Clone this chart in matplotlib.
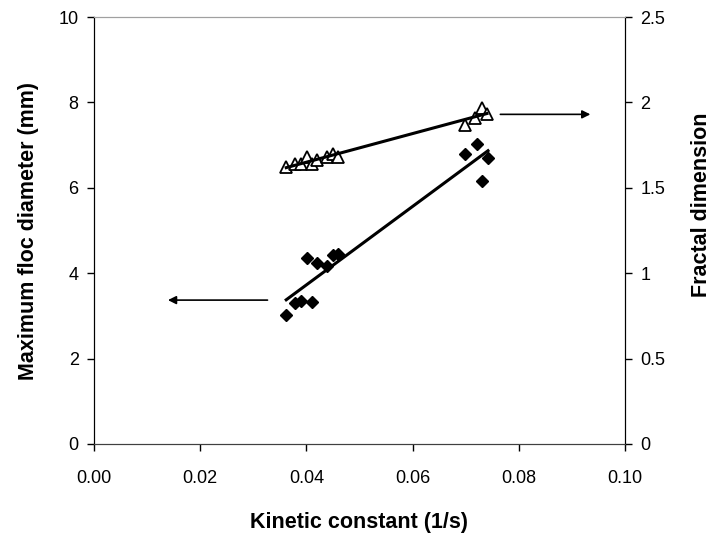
import numpy as np
import matplotlib
matplotlib.use('Agg')
import matplotlib.pyplot as plt

plt.rcParams['font.family'] = ['Liberation Sans', 'DejaVu Sans']

# 最大フロック径 (左軸)
k_diam = [0.0362, 0.0379, 0.0390, 0.0410, 0.0401, 0.0420, 0.0438, 0.0450, 0.0460,
          0.0699, 0.0721, 0.0742, 0.0731]
diam = [3.02, 3.30, 3.35, 3.32, 4.36, 4.25, 4.17, 4.42, 4.46,
        6.80, 7.02, 6.70, 6.16]

# フラクタル次元 (右軸)
k_frac = [0.0362, 0.0379, 0.0390, 0.0401, 0.0410, 0.0420, 0.0438, 0.0450, 0.0460,
          0.0699, 0.0718, 0.0731, 0.0740]
frac = [1.62, 1.64, 1.64, 1.68, 1.64, 1.66, 1.68, 1.70, 1.68,
        1.87, 1.91, 1.97, 1.93]

x_ticks = [0.00, 0.02, 0.04, 0.06, 0.08, 0.10]
left_ticks = [0, 2, 4, 6, 8, 10]
right_ticks = [0, 0.5, 1, 1.5, 2, 2.5]

fig = plt.figure(figsize=(7.2, 5.39), dpi=100)
ax = fig.add_axes([94 / 720, 1 - 444 / 539, 531 / 720, 427 / 539])
ax2 = ax.twinx()

ax.plot(k_diam, diam, 'D', color='black', markersize=6.5, zorder=3)
ax2.plot(k_frac, frac, '^', markerfacecolor='white', markeredgecolor='black',
         markeredgewidth=1.3, markersize=9, zorder=3)

# 近似直線
for a, xs, ys in [(ax, k_diam, diam), (ax2, k_frac, frac)]:
    p = np.polyfit(xs, ys, 1)
    xx = np.array([min(xs), max(xs)])
    a.plot(xx, np.polyval(p, xx), color='black', lw=2.2, zorder=4)

# 軸を示す矢印
ax.annotate('', xy=(0.0134, 3.37), xytext=(0.0332, 3.37),
            arrowprops=dict(arrowstyle='-|>', color='black', lw=1.2, mutation_scale=12))
ax.annotate('', xy=(0.0940, 7.72), xytext=(0.0760, 7.72),
            arrowprops=dict(arrowstyle='-|>', color='black', lw=1.2, mutation_scale=12))

ax.set_xlim(0, 0.10)
ax.set_ylim(0, 10)
ax2.set_ylim(0, 2.5)
ax.set_xticks(x_ticks)
ax.set_xticklabels([f'{v:.2f}' for v in x_ticks])
ax.set_yticks(left_ticks)
ax2.set_yticks(right_ticks)
ax2.set_yticklabels(['0', '0.5', '1', '1.5', '2', '2.5'])

for a in (ax, ax2):
    a.tick_params(direction='out', length=5, width=1, labelsize=13, pad=6)
    a.spines['top'].set_color('#a0a0a0')
    a.spines['bottom'].set_color('#404040')
    a.spines['left'].set_color('black')
    a.spines['right'].set_color('black')
ax.tick_params(axis='x', pad=14)

ax.set_xlabel('Kinetic constant (1/s)', fontsize=15.5, fontweight='bold', labelpad=18)
ax.set_ylabel('Maximum floc diameter (mm)', fontsize=15.5, fontweight='bold', labelpad=14)
ax2.set_ylabel('Fractal dimension', fontsize=15.5, fontweight='bold')
ax2.yaxis.set_label_coords(1.125, 0.56)

fig.savefig('out.png', dpi=100)
